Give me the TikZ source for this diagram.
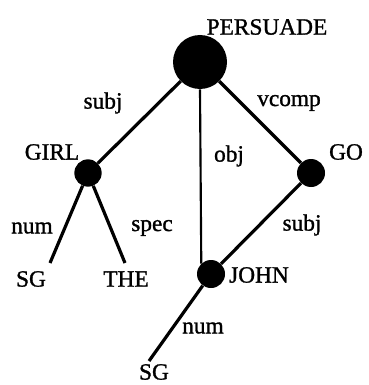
\documentclass[tikz,border=0pt]{standalone}
\usepackage{fontspec}
\setmainfont{Liberation Serif}[FakeBold=1.2]
\begin{document}
\begin{tikzpicture}[x=0.75pt,y=-0.75pt,
  dot/.style={circle,fill=black,inner sep=0pt,minimum size=#1},
  lbl/.style={inner sep=0pt,font=\fontsize{17.5}{19}\selectfont},
  edge/.style={line width=2.4pt},
  thin edge/.style={line width=1.6pt}]
\useasboundingbox (0,0) rectangle (368,385);
\node[dot=40.5pt] (P) at (200,62) {};
\node[dot=20.5pt] (G) at (88,173) {};
\node[dot=21pt] (O) at (311,173) {};
\node[dot=21pt] (J) at (211,274) {};
\coordinate (S1) at (50,263);
\coordinate (T) at (125,263);
\coordinate (S2) at (149,361);
\node[lbl] (tP) at (267,27) {PERSUADE};
\node[lbl] (tG) at (52,152) {GIRL};
\node[lbl] (tO) at (346,152) {GO};
\node[lbl] (tJ) at (259,275) {JOHN};
\node[lbl] (tS1) at (31,279) {SG};
\node[lbl] (tT) at (126,279) {THE};
\node[lbl] (tS2) at (154,372) {SG};
\node[lbl] (l1) at (103,103) {subj};
\node[lbl] (l2) at (289,103) {vcomp};
\node[lbl] (l3) at (229,156) {obj};
\node[lbl] (l4) at (32,228) {num};
\node[lbl] (l5) at (152,228) {spec};
\node[lbl] (l6) at (302,225) {subj};
\node[lbl] (l7) at (203,328) {num};
\draw[edge] (P) -- (G);
\draw[edge] (P) -- (O);
\draw[thin edge] (P.south) -- (J.133);
\draw[edge] (G) -- (S1);
\draw[edge] (G) -- (T);
\draw[edge] (O) -- (J);
\draw[edge] (J) -- (S2);
\end{tikzpicture}
\end{document}
